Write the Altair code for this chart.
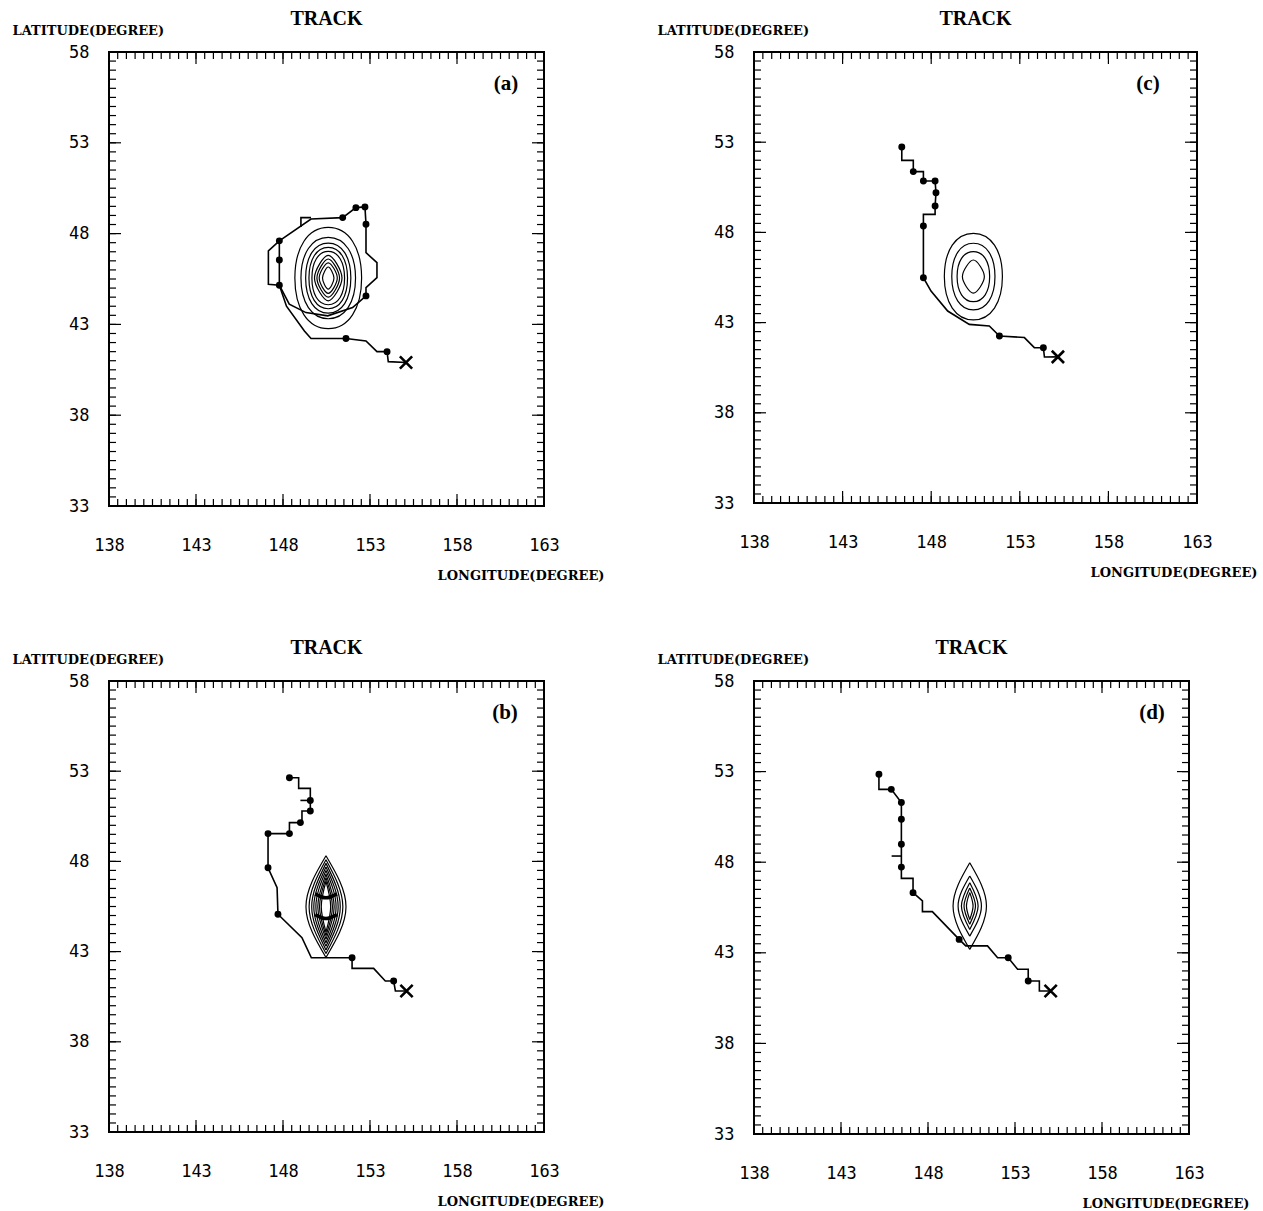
import altair as alt
import pandas as pd

# ---------------- axis values ----------------
lon_ticks = [138, 143, 148, 153, 158, 163]
lat_ticks = [33, 38, 43, 48, 53, 58]
minor_lon = [138 + 0.5 * i for i in range(51)]
minor_lat = [33 + 0.5 * i for i in range(51)]

# ---------------- panel (a) ----------------
a_main_lon = [155.07, 154.05, 153.98, 153.40, 152.77, 151.62, 149.61, 149.23, 148.20, 147.79,
              147.16, 147.16, 147.79, 149.61, 151.43, 152.19, 152.71, 152.77, 152.77, 153.40,
              153.40, 152.77, 152.77]
a_main_lat = [40.90, 40.95, 41.50, 41.50, 42.09, 42.22, 42.22, 42.64, 44.00, 45.16,
              45.21, 47.05, 47.60, 48.80, 48.88, 49.43, 49.47, 48.51, 46.95, 46.40,
              45.58, 45.03, 44.57]
a_loop_lon = [152.77, 152.00, 150.57, 149.32, 148.36, 147.79, 147.79, 147.79]
a_loop_lat = [44.57, 43.93, 43.47, 43.65, 44.11, 45.16, 46.55, 47.60]
a_stub_lon = [149.03, 149.03, 149.61]
a_stub_lat = [48.37, 48.88, 48.88]
a_dot_lon = [153.98, 151.62, 147.79, 147.79, 147.79, 151.43, 152.19, 152.71, 152.77, 152.77]
a_dot_lat = [41.50, 42.22, 45.16, 46.55, 47.60, 48.88, 49.43, 49.47, 48.51, 44.57]
a_x = (155.07, 40.90)
a_center = (150.60, 45.55)
a_ell_hw = [1.92, 1.57, 1.30, 1.11, 0.94]
a_ell_hh = [2.79, 2.24, 1.93, 1.69, 1.47]
a_dia_hw = [0.79, 0.65, 0.52, 0.33]
a_dia_hh = [1.25, 1.05, 0.84, 0.61]

# ---------------- panel (c) ----------------
c_main_lon = [155.15, 154.39, 154.33, 153.82, 153.26, 151.85, 151.28, 150.15, 148.93, 147.99,
              147.56, 147.56, 147.56, 148.22, 148.22, 148.27, 148.22, 147.56, 147.56, 146.99,
              146.99, 146.34, 146.34]
c_main_lat = [41.10, 41.09, 41.61, 41.61, 42.17, 42.26, 42.81, 42.90, 43.64, 44.75,
              45.49, 48.35, 49.00, 49.00, 49.46, 50.20, 50.85, 50.85, 51.37, 51.37,
              51.99, 51.99, 52.73]
c_dot_lon = [154.33, 151.85, 147.56, 147.56, 148.22, 148.27, 148.22, 147.56, 146.99, 146.34]
c_dot_lat = [41.61, 42.26, 45.49, 48.35, 49.46, 50.20, 50.85, 50.85, 51.37, 52.73]
c_x = (155.15, 41.10)
c_center = (150.38, 45.55)
c_ell_hw = [1.64, 1.22, 0.92]
c_ell_hh = [2.40, 1.85, 1.39]
c_dia_hw = [0.62]
c_dia_hh = [0.92]

# ---------------- panel (b) ----------------
b_main_lon = [155.07, 154.46, 154.36, 153.88, 153.21, 151.97, 151.97, 149.63, 149.09, 147.71,
              147.66, 147.14, 147.14, 148.37, 148.37, 149.00, 149.09, 149.09, 149.57, 149.57,
              149.57, 148.90, 148.90, 148.37]
b_main_lat = [40.82, 40.82, 41.37, 41.37, 42.07, 42.07, 42.66, 42.66, 43.77, 45.07,
              46.54, 47.65, 49.54, 49.54, 50.15, 50.15, 50.15, 50.79, 50.79, 51.38,
              52.05, 52.05, 52.64, 52.64]
b_stub_lon = [149.00, 149.57]
b_stub_lat = [51.38, 51.38]
b_dot_lon = [154.36, 151.97, 147.71, 147.14, 147.14, 148.37, 149.00, 149.57, 149.57, 148.37]
b_dot_lat = [41.37, 42.66, 45.07, 47.65, 49.54, 49.54, 50.15, 50.79, 51.38, 52.64]
b_x = (155.10, 40.82)
b_center = (150.47, 45.49)
b_lens_hw = [1.15, 0.97, 0.82, 0.70, 0.58, 0.47, 0.37, 0.27]
b_lens_hh = [2.82, 2.60, 2.40, 2.20, 2.00, 1.80, 1.60, 1.40]
# dark crowded-contour bands inside lens (b)
b_band_lon = [[149.85, 150.47, 151.10], [149.85, 150.47, 151.10]]
b_band_lat = [[46.20, 45.98, 46.20], [45.05, 44.83, 45.05]]

# ---------------- panel (d) ----------------
d_main_lon = [155.07, 154.40, 154.40, 153.76, 153.76, 153.15, 152.61, 152.00, 151.42, 150.17,
              149.79, 148.25, 147.68, 147.68, 147.14, 147.14, 146.47, 146.47, 146.47, 146.47,
              146.47, 145.89, 145.18, 145.18]
d_main_lat = [40.89, 40.89, 41.44, 41.44, 42.09, 42.09, 42.73, 42.73, 43.38, 43.38,
              43.74, 45.27, 45.27, 45.86, 46.32, 47.11, 47.11, 47.73, 48.99, 50.37,
              51.29, 52.02, 52.02, 52.85]
d_stub_lon = [145.91, 146.47]
d_stub_lat = [48.34, 48.34]
d_dot_lon = [153.76, 152.61, 149.79, 147.14, 146.47, 146.47, 146.47, 146.47, 145.89, 145.18]
d_dot_lat = [41.44, 42.73, 43.74, 46.32, 47.73, 48.99, 50.37, 51.29, 52.02, 52.85]
d_x = (155.05, 40.89)
d_center = (150.40, 45.58)
d_lens_hw = [0.96, 0.67, 0.48, 0.33, 0.19]
d_lens_hh = [2.39, 1.66, 1.29, 1.00, 0.74]

# ---------------- helpers ----------------
BLACK = "black"
LABEL_FONT = "DejaVu Sans Mono"
SERIF = "DejaVu Serif"


def seg_table(segs):
    rows = []
    for s, (lons, lats) in enumerate(segs):
        for i, (x, y) in enumerate(zip(lons, lats)):
            rows.append({"seg": s, "o": i, "lon": x, "lat": y})
    return pd.DataFrame(rows)


def ring_table(center, hws, hhs, kind):
    cx, cy = center
    rows = []
    for r, (w, h) in enumerate(zip(hws, hhs)):
        if kind == "basis":
            k = 1.09
            pts = [(cx + k * w, cy + k * h), (cx + k * w, cy - k * h),
                   (cx - k * w, cy - k * h), (cx - k * w, cy + k * h)]
            for i, (x, y) in enumerate(pts):
                rows.append({"seg": r, "o": i, "lon": x, "lat": y})
        elif kind == "cardinal":
            pts = [(cx, cy + h), (cx + w, cy), (cx, cy - h), (cx - w, cy)]
            for i, (x, y) in enumerate(pts):
                rows.append({"seg": r, "o": i, "lon": x, "lat": y})
        else:  # lens: two arcs
            for side, sgn in enumerate([-1, 1]):
                pts = [(cx, cy + h), (cx + sgn * w, cy), (cx, cy - h)]
                for i, (x, y) in enumerate(pts):
                    rows.append({"seg": 2 * r + side, "o": i, "lon": x, "lat": y})
    return pd.DataFrame(rows)


def make_panel(label, w, h, label_x, segs, dots, xpt, ring_specs, bands=None):
    xs = alt.Scale(domain=[138, 163], nice=False, zero=False)
    ys = alt.Scale(domain=[33, 58], nice=False, zero=False)
    xaxis = alt.Axis(values=lon_ticks, ticks=False, tickSize=0, domain=False, grid=False,
                     labelFont=LABEL_FONT, labelFontSize=17, labelColor=BLACK,
                     labelPadding=31, labelFlush=False,
                     title="LONGITUDE(DEGREE)", titleFont=SERIF, titleFontSize=13,
                     titleFontWeight="bold", titleColor=BLACK, titleAlign="right",
                     titleBaseline="middle", titleX=w + 60, titleY=69)
    yaxis = alt.Axis(values=lat_ticks, ticks=False, tickSize=0, domain=False, grid=False,
                     labelFont=LABEL_FONT, labelFontSize=17, labelColor=BLACK,
                     labelPadding=20, labelFlush=False,
                     title="LATITUDE(DEGREE)", titleFont=SERIF, titleFontSize=13,
                     titleFontWeight="bold", titleColor=BLACK, titleAngle=0,
                     titleAlign="left", titleBaseline="middle", titleX=-97, titleY=-22)
    X = alt.X("lon:Q", scale=xs, axis=xaxis)
    Y = alt.Y("lat:Q", scale=ys, axis=yaxis)

    layers = []
    # tick marks (inward) on all four sides
    for vals, L in [(minor_lon, 7), (lon_ticks, 12)]:
        df = pd.DataFrame({"lon": vals})
        layers.append(alt.Chart(df).mark_rule(color=BLACK, strokeWidth=1.2).encode(
            x=X, y=alt.value(h), y2=alt.value(h - L)))
        layers.append(alt.Chart(df).mark_rule(color=BLACK, strokeWidth=1.2).encode(
            x=X, y=alt.value(0), y2=alt.value(L)))
    for vals, L in [(minor_lat, 7), (lat_ticks, 12)]:
        df = pd.DataFrame({"lat": vals})
        layers.append(alt.Chart(df).mark_rule(color=BLACK, strokeWidth=1.2).encode(
            y=Y, x=alt.value(0), x2=alt.value(L)))
        layers.append(alt.Chart(df).mark_rule(color=BLACK, strokeWidth=1.2).encode(
            y=Y, x=alt.value(w), x2=alt.value(w - L)))

    # contours
    for center, hws, hhs, kind in ring_specs:
        interp = {"basis": "basis-closed", "cardinal": "cardinal-closed", "lens": "natural"}[kind]
        layers.append(alt.Chart(ring_table(center, hws, hhs, kind)).mark_line(
            color=BLACK, strokeWidth=1.2, interpolate=interp).encode(
            x=X, y=Y, detail="seg:N", order="o:Q"))
    if bands is not None:
        layers.append(alt.Chart(seg_table(list(zip(bands[0], bands[1])))).mark_line(
            color=BLACK, strokeWidth=3.5, interpolate="natural").encode(
            x=X, y=Y, detail="seg:N", order="o:Q"))

    # track
    layers.append(alt.Chart(seg_table(segs)).mark_line(color=BLACK, strokeWidth=1.6).encode(
        x=X, y=Y, detail="seg:N", order="o:Q"))
    layers.append(alt.Chart(pd.DataFrame({"lon": dots[0], "lat": dots[1]})).mark_point(
        filled=True, color=BLACK, size=48, opacity=1).encode(x=X, y=Y))
    layers.append(alt.Chart(pd.DataFrame({"lon": [xpt[0]], "lat": [xpt[1]]})).mark_point(
        shape="M-1,-1L1,1M-1,1L1,-1", filled=False, color=BLACK, strokeWidth=2.6,
        size=150, opacity=1).encode(x=X, y=Y))

    # panel label and title
    layers.append(alt.Chart(pd.DataFrame({"t": [label]})).mark_text(
        font="Liberation Serif", fontSize=21, fontWeight="bold", color=BLACK).encode(
        text="t:N", x=alt.value(label_x), y=alt.value(32)))
    layers.append(alt.Chart(pd.DataFrame({"t": ["TRACK"]})).mark_text(
        font="Liberation Serif", fontSize=20, fontWeight="bold", color=BLACK,
        baseline="middle", align="center").encode(
        text="t:N", x=alt.value(w / 2), y=alt.value(-33)))

    return alt.layer(*layers).properties(width=w, height=h)


pa = make_panel("(a)", 435, 454, 397,
                [(a_main_lon, a_main_lat), (a_loop_lon, a_loop_lat), (a_stub_lon, a_stub_lat)],
                (a_dot_lon, a_dot_lat), a_x,
                [(a_center, a_ell_hw, a_ell_hh, "basis"), (a_center, a_dia_hw, a_dia_hh, "cardinal")])
pc = make_panel("(c)", 443, 451, 394,
                [(c_main_lon, c_main_lat)],
                (c_dot_lon, c_dot_lat), c_x,
                [(c_center, c_ell_hw, c_ell_hh, "basis"), (c_center, c_dia_hw, c_dia_hh, "cardinal")])
pb = make_panel("(b)", 435, 451, 396,
                [(b_main_lon, b_main_lat), (b_stub_lon, b_stub_lat)],
                (b_dot_lon, b_dot_lat), b_x,
                [(b_center, b_lens_hw, b_lens_hh, "lens")],
                bands=(b_band_lon, b_band_lat))
pd_ = make_panel("(d)", 435, 453, 398,
                 [(d_main_lon, d_main_lat), (d_stub_lon, d_stub_lat)],
                 (d_dot_lon, d_dot_lat), d_x,
                 [(d_center, d_lens_hw, d_lens_hh, "lens")])

chart = alt.concat(pa, pc, pb, pd_, columns=2,
                   spacing=alt.RowColnumber(row=175, column=210),
                   bounds="flush").properties(
    padding={"left": 11, "top": 8, "right": 5, "bottom": 5},
    background="white",
).configure_view(stroke=BLACK, strokeWidth=2)

chart.save("out.html", embed_options={"renderer": "svg", "actions": False})
